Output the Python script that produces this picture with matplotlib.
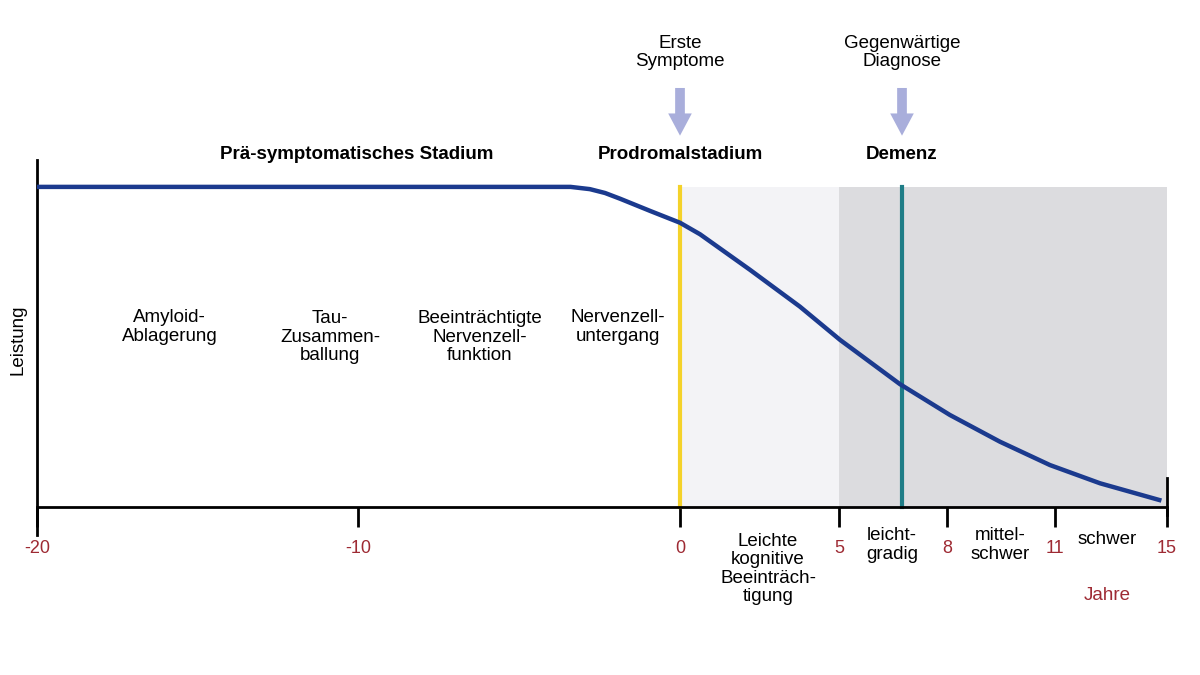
import numpy as np
import matplotlib
matplotlib.use("Agg")
import matplotlib.pyplot as plt

plt.rcParams['font.family'] = ['Liberation Sans', 'DejaVu Sans']

# ---- data ----
curve_years = [-20, -3.4, -2.8, -2.33, -1.86, -0.93, 0, 0.63, 2.2, 3.77, 5.03,
               6.69, 8.08, 9.47, 10.86, 12.61, 14.8]
curve_values = [100, 100, 99.3, 98.1, 96.3, 92.5, 88.8, 85.2, 74.1, 62.6, 52.2,
                38.4, 28.75, 20.4, 13.1, 7.4, 2.0]

tick_years = [-20, -10, 0, 5, 8, 11, 15]
tick_labels = ["-20", "-10", "0", "5", "8", "11", "15"]
# relative spacing of the axis (non-uniform time axis)
tick_pos = [0, 321, 643, 802, 910, 1018, 1130]

symptom_year = 0
diagnosis_year = 6.75
prodromal_span = (0, 5)
dementia_span = (5, 15)

phase_labels = ["Amyloid-\nAblagerung", "Tau-\nZusammen-\nballung",
                "Beeinträchtigte\nNervenzell-\nfunktion", "Nervenzell-\nuntergang"]
phase_years = [-15.86, -10.87, -6.21, -1.93]
phase_y = [56.25, 53.1, 53.1, 56.25]

stage_labels = ["Prä-symptomatisches Stadium", "Prodromalstadium", "Demenz"]
stage_years = [-10.03, 0, 6.75]

severity_labels = ["Leichte\nkognitive\nBeeinträch-\ntigung", "leicht-\ngradig", "mittel-\nschwer", "schwer"]
severity_years = [2.77, 6.47, 9.47, 12.86]
severity_y = [-19.4, -11.9, -11.9, -10.0]

# ---- scale ----
ty = np.array(tick_years, float)
tp = np.array(tick_pos, float)

def fwd(x):
    x = np.asarray(x, float)
    y = np.interp(x, ty, tp)
    s0 = (tp[1] - tp[0]) / (ty[1] - ty[0])
    s1 = (tp[-1] - tp[-2]) / (ty[-1] - ty[-2])
    y = np.where(x < ty[0], tp[0] + (x - ty[0]) * s0, y)
    y = np.where(x > ty[-1], tp[-1] + (x - ty[-1]) * s1, y)
    return y

def inv(p):
    p = np.asarray(p, float)
    x = np.interp(p, tp, ty)
    s0 = (ty[1] - ty[0]) / (tp[1] - tp[0])
    s1 = (ty[-1] - ty[-2]) / (tp[-1] - tp[-2])
    x = np.where(p < tp[0], ty[0] + (p - tp[0]) * s0, x)
    x = np.where(p > tp[-1], ty[-1] + (p - tp[-1]) * s1, x)
    return x

W, H = 1200, 675
fig = plt.figure(figsize=(12, 6.75), dpi=100)
fig.patch.set_facecolor('white')
ax = fig.add_axes([37 / W, (H - 535) / H, (1167 - 37) / W, (535 - 160) / H])
ax.set_xscale('function', functions=(fwd, inv))
ax.set_xlim(-20, 15)
ax.set_ylim(-8.75, 108.4)
ax.set_facecolor('none')

navy = '#1b3a8e'
red = '#9e2a33'
arrow_c = '#a9aedb'
FS = 13.5
LS = 1.1

# shaded stages
ax.fill_between(list(prodromal_span), 0, 100, color='#f3f3f6', lw=0, zorder=0)
ax.fill_between(list(dementia_span), 0, 100, color='#dcdcdf', lw=0, zorder=0)

# vertical markers
ax.plot([symptom_year, symptom_year], [0, 100], color='#f4d22a', lw=3, zorder=2)
ax.plot([diagnosis_year, diagnosis_year], [0, 100], color='#1f7d87', lw=3, zorder=2)

# performance curve
ax.plot(curve_years, curve_values, color=navy, lw=3.2, solid_capstyle='butt',
        solid_joinstyle='round', zorder=3)

# axes styling
for s in ['top', 'right']:
    ax.spines[s].set_visible(False)
ax.spines['left'].set_linewidth(2)
ax.spines['bottom'].set_position(('data', 0))
ax.spines['bottom'].set_linewidth(2)
ax.spines['bottom'].set_zorder(4)
ax.set_yticks([])
ax.set_xticks(tick_years)
ax.set_xticklabels(tick_labels)
ax.xaxis.set_minor_locator(matplotlib.ticker.NullLocator())
ax.tick_params(axis='x', direction='out', length=14.5, width=2, color='black',
               labelcolor=red, labelsize=13, pad=9)
ax.plot([15, 15], [-2.5, 9], color='black', lw=2, clip_on=False, zorder=4)

# stage headings
for lab, x in zip(stage_labels, stage_years):
    ax.text(x, 110, lab, ha='center', va='center', fontsize=FS, fontweight='bold', clip_on=False)

# event annotations with arrows
for lab, x in zip(["Erste\nSymptome", "Gegenwärtige\nDiagnose"], [symptom_year, diagnosis_year]):
    ax.text(x, 141.9, lab, ha='center', va='center', fontsize=FS, linespacing=LS, clip_on=False)
    ax.annotate('', xy=(x, 116.0), xytext=(x, 130.9), xycoords='data',
                arrowprops=dict(arrowstyle='simple,head_length=16,head_width=17,tail_width=7',
                                mutation_scale=1, color=arrow_c, lw=0,
                                shrinkA=0, shrinkB=0), annotation_clip=False)

# phase labels
for lab, x, y in zip(phase_labels, phase_years, phase_y):
    ax.text(x, y, lab, ha='center', va='center', fontsize=FS, linespacing=LS, clip_on=False)

# severity labels
for lab, x, y in zip(severity_labels, severity_years, severity_y):
    ax.text(x, y, lab, ha='center', va='center', fontsize=FS, linespacing=LS, clip_on=False)

ax.text(12.86, -27.5, "Jahre", ha='center', va='center', fontsize=FS, color=red, clip_on=False)
fig.text(18 / W, 1 - 340 / H, "Leistung", rotation=90, ha='center', va='center', fontsize=FS)

fig.savefig('out.png', dpi=100)
